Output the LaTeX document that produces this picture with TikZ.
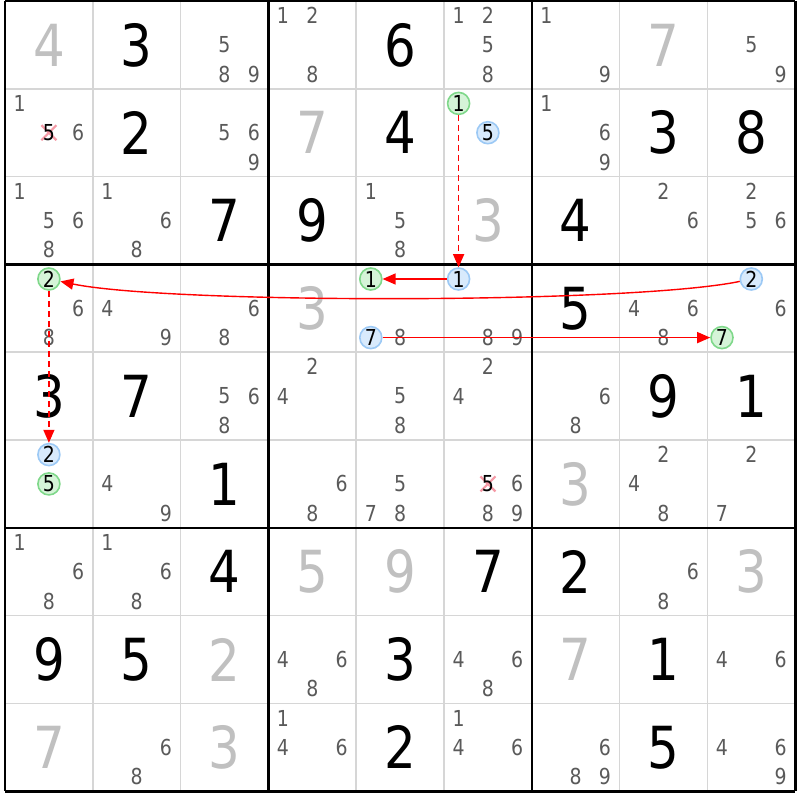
\documentclass[tikz,border=0pt]{standalone}
\usepackage{fontspec}
\setmainfont[FakeStretch=0.86]{DejaVu Sans}
\usetikzlibrary{arrows.meta, calc}
\definecolor{candGray}{HTML}{5A5A5A}
\definecolor{solvedGray}{HTML}{C0C0C0}
\definecolor{thinLine}{HTML}{D6D6D6}
\definecolor{ringGreen}{HTML}{7FD88A}
\definecolor{fillGreen}{HTML}{D5F4D8}
\definecolor{ringBlue}{HTML}{9CC9F5}
\definecolor{fillBlue}{HTML}{D8EAFC}
\definecolor{strikePink}{HTML}{F59AA6}
\tikzstyle{given}=[inner sep=0pt, font=\fontsize{58}{58}\selectfont, text=black]
\tikzstyle{solved}=[given, text=solvedGray]
\tikzstyle{cand}=[inner sep=0pt, font=\fontsize{22}{22}\selectfont, text=candGray]
\tikzstyle{onring}=[cand, text=black, circle, minimum size=22pt, line width=1.6pt]
\tikzstyle{greenring}=[onring, draw=ringGreen, fill=fillGreen]
\tikzstyle{bluering}=[onring, draw=ringBlue, fill=fillBlue]
\tikzstyle{link}=[-{Triangle[length=13pt, width=11pt]}, red, line width=1.4pt]
\tikzstyle{weaklink}=[link, dash pattern=on 6pt off 4pt]
\tikzstyle{thingrid}=[thinLine, line width=1.6pt]
\tikzstyle{boxgrid}=[black, line width=2.6pt]

\newcommand{\cellx}[1]{5+(#1-0.5)*87.8}
\newcommand{\celly}[1]{1+(#1-0.5)*87.8}

% big digits: row, column, value
\newcommand{\givenAt}[3]{\node (r#1c#2) [given] at ({\cellx{#2}},{\celly{#1}}) {#3};}
\newcommand{\solvedAt}[3]{\node (r#1c#2) [solved] at ({\cellx{#2}},{\celly{#1}}) {#3};}

% pencil marks
\newcommand{\candsAt}[3]{%
  \foreach \k in {#3} {%
    \node (r#1c#2n\k) [cand] at ({\cellx{#2}+(mod(\k-1,3)-1)*29.3},{\celly{#1}+(floor((\k-1)/3)-1)*29.3}) {\k};
  }}
\newcommand{\ringAt}[4]{%
  \node (r#1c#2n#3) [#4] at ({\cellx{#2}+(mod(#3-1,3)-1)*29.3},{\celly{#1}+(floor((#3-1)/3)-1)*29.3}) {#3};}
\newcommand{\struckAt}[3]{%
  \coordinate (r#1c#2x#3) at ({\cellx{#2}+(mod(#3-1,3)-1)*29.3},{\celly{#1}+(floor((#3-1)/3)-1)*29.3});
  \draw[strikePink, line width=2.2pt] ($(r#1c#2x#3)+(-7.5,-7.5)$) -- ($(r#1c#2x#3)+(7.5,7.5)$) ($(r#1c#2x#3)+(-7.5,7.5)$) -- ($(r#1c#2x#3)+(7.5,-7.5)$);
  \node (r#1c#2n#3) [cand, text=black] at (r#1c#2x#3) {#3};}

\begin{document}
\begin{tikzpicture}[x=1pt, y=-1pt]
\useasboundingbox[fill=white] (0,0) rectangle (800,800);

\foreach \i in {1,2,4,5,7,8} {
  \draw[thingrid] ({5+\i*87.8},1) -- ({5+\i*87.8},791);
  \draw[thingrid] (5,{1+\i*87.8}) -- (795,{1+\i*87.8});
}
\foreach \i in {0,3,6,9} {
  \draw[boxgrid] ({5+\i*87.8},1) -- ({5+\i*87.8},791);
  \draw[boxgrid] (5,{1+\i*87.8}) -- (795,{1+\i*87.8});
}

% row 1
\solvedAt{1}{1}{4} \givenAt{1}{2}{3} \candsAt{1}{3}{5,8,9}
\candsAt{1}{4}{1,2,8} \givenAt{1}{5}{6} \candsAt{1}{6}{1,2,5,8}
\candsAt{1}{7}{1,9} \solvedAt{1}{8}{7} \candsAt{1}{9}{5,9}
% row 2
\candsAt{2}{1}{1,6} \struckAt{2}{1}{5} \givenAt{2}{2}{2} \candsAt{2}{3}{5,6,9}
\solvedAt{2}{4}{7} \givenAt{2}{5}{4} \ringAt{2}{6}{1}{greenring} \ringAt{2}{6}{5}{bluering}
\candsAt{2}{7}{1,6,9} \givenAt{2}{8}{3} \givenAt{2}{9}{8}
% row 3
\candsAt{3}{1}{1,5,6,8} \candsAt{3}{2}{1,6,8} \givenAt{3}{3}{7}
\givenAt{3}{4}{9} \candsAt{3}{5}{1,5,8} \solvedAt{3}{6}{3}
\givenAt{3}{7}{4} \candsAt{3}{8}{2,6} \candsAt{3}{9}{2,5,6}
% row 4
\ringAt{4}{1}{2}{greenring} \candsAt{4}{1}{6,8} \candsAt{4}{2}{4,9} \candsAt{4}{3}{6,8}
\solvedAt{4}{4}{3} \ringAt{4}{5}{1}{greenring} \ringAt{4}{5}{7}{bluering} \candsAt{4}{5}{8}
\ringAt{4}{6}{1}{bluering} \candsAt{4}{6}{8,9}
\givenAt{4}{7}{5} \candsAt{4}{8}{4,6,8}
\ringAt{4}{9}{2}{bluering} \candsAt{4}{9}{6} \ringAt{4}{9}{7}{greenring}
% row 5
\givenAt{5}{1}{3} \givenAt{5}{2}{7} \candsAt{5}{3}{5,6,8}
\candsAt{5}{4}{2,4} \candsAt{5}{5}{5,8} \candsAt{5}{6}{2,4}
\candsAt{5}{7}{6,8} \givenAt{5}{8}{9} \givenAt{5}{9}{1}
% row 6
\ringAt{6}{1}{2}{bluering} \ringAt{6}{1}{5}{greenring} \candsAt{6}{2}{4,9} \givenAt{6}{3}{1}
\candsAt{6}{4}{6,8} \candsAt{6}{5}{5,7,8} \struckAt{6}{6}{5} \candsAt{6}{6}{6,8,9}
\solvedAt{6}{7}{3} \candsAt{6}{8}{2,4,8} \candsAt{6}{9}{2,7}
% row 7
\candsAt{7}{1}{1,6,8} \candsAt{7}{2}{1,6,8} \givenAt{7}{3}{4}
\solvedAt{7}{4}{5} \solvedAt{7}{5}{9} \givenAt{7}{6}{7}
\givenAt{7}{7}{2} \candsAt{7}{8}{6,8} \solvedAt{7}{9}{3}
% row 8
\givenAt{8}{1}{9} \givenAt{8}{2}{5} \solvedAt{8}{3}{2}
\candsAt{8}{4}{4,6,8} \givenAt{8}{5}{3} \candsAt{8}{6}{4,6,8}
\solvedAt{8}{7}{7} \givenAt{8}{8}{1} \candsAt{8}{9}{4,6}
% row 9
\solvedAt{9}{1}{7} \candsAt{9}{2}{6,8} \solvedAt{9}{3}{3}
\candsAt{9}{4}{1,4,6} \givenAt{9}{5}{2} \candsAt{9}{6}{1,4,6}
\candsAt{9}{7}{6,8,9} \givenAt{9}{8}{5} \candsAt{9}{9}{4,6,9}

% chain
\draw[weaklink] (r2c6n1) -- (r4c6n1);
\draw[link] (r4c6n1) -- (r4c5n1);
\draw[link] (r4c5n7) -- (r4c9n7);
\draw[link] (r4c9n2) .. controls ($(r4c9n2)+(-120,25)$) and ($(r4c1n2)+(120,25)$) .. (r4c1n2);
\draw[weaklink] (r4c1n2) -- (r6c1n2);
\end{tikzpicture}
\end{document}
